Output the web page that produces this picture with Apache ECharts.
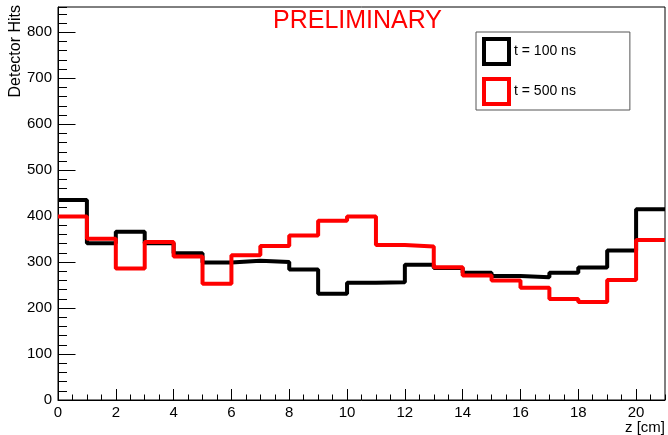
<!DOCTYPE html>
<html>
<head>
<meta charset="utf-8">
<script src="https://cdn.jsdelivr.net/npm/echarts@6/dist/echarts.min.js"></script>
<style>html,body{margin:0;padding:0;background:#fff;}#c{width:668px;height:435px;}</style>
</head>
<body>
<div id="c"></div>
<script>
// bin lower edges (z in cm), bin width 1
const binLow = [0,1,2,3,4,5,6,7,8,9,10,11,12,13,14,15,16,17,18,19,20];
const binWidth = 1;
const hits100 = [435,341,366,341,319,299,303,300,284,231,255,256,294,287,277,270,267,277,288,325,415];
const hits500 = [399,351,286,344,312,253,315,335,358,390,399,337,334,289,271,260,244,220,213,261,348];
const seriesNames = ['t = 100 ns', 't = 500 ns'];
const xMajorTicks = [0,2,4,6,8,10,12,14,16,18,20];

function stepPoints(vals) {
  const pts = binLow.map((x, i) => [x, vals[i]]);
  pts.push([binLow[binLow.length - 1] + binWidth, vals[vals.length - 1]]);
  return pts;
}

const FONT = 'Liberation Sans';
const chart = echarts.init(document.getElementById('c'), null, {renderer: 'canvas'});
const xMax = binLow[binLow.length - 1] + binWidth;
const yMax = 855;

chart.setOption({
  backgroundColor: '#fff',
  animation: false,
  textStyle: {fontFamily: FONT},
  title: {
    text: 'PRELIMINARY',
    left: 273, top: 9, padding: 0,
    textStyle: {color: '#ff0000', fontSize: 25, fontWeight: 'normal', fontFamily: FONT}
  },
  legend: {
    orient: 'vertical',
    left: 476, top: 32,
    padding: [5, 54, 4, 6],
    itemGap: 11,
    itemWidth: 25, itemHeight: 25,
    backgroundColor: '#fff',
    borderColor: '#555', borderWidth: 1,
    selectedMode: false,
    textStyle: {fontSize: 14, color: '#000', fontFamily: FONT},
    data: [
      {name: seriesNames[0], icon: 'rect', itemStyle: {color: 'rgba(0,0,0,0)', borderColor: '#000', borderWidth: 4}},
      {name: seriesNames[1], icon: 'rect', itemStyle: {color: 'rgba(0,0,0,0)', borderColor: '#ff0000', borderWidth: 4}}
    ]
  },
  grid: {left: 58, right: 2, top: 7, bottom: 35, show: true, borderColor: '#000', borderWidth: 1, containLabel: false},
  xAxis: [
    {
      type: 'value', min: 0, max: xMax, interval: 2, position: 'bottom',
      axisLine: {show: true, onZero: false, lineStyle: {color: '#000', width: 1}},
      axisTick: {show: true, inside: true, length: 11, lineStyle: {color: '#000'}},
      axisLabel: {show: true, margin: 5, fontSize: 15, color: '#000', fontFamily: FONT, showMaxLabel: false,
        formatter: v => (xMajorTicks.indexOf(v) >= 0 ? String(v) : '')},
      splitLine: {show: false},
      name: 'z [cm]', nameLocation: 'end', nameGap: 0, nameMoveOverlap: false,
      nameTextStyle: {fontSize: 15, color: '#000', fontFamily: FONT, align: 'right', verticalAlign: 'top', padding: [20, 0, 0, 0]}
    },
    {
      type: 'value', min: 0, max: xMax, interval: 0.5, position: 'bottom',
      axisLine: {show: false, onZero: false},
      axisTick: {show: true, inside: true, length: 5.5, lineStyle: {color: '#000'}},
      axisLabel: {show: false},
      splitLine: {show: false}
    }
  ],
  yAxis: [
    {
      type: 'value', min: 0, max: yMax, interval: 100, position: 'left',
      axisLine: {show: true, onZero: false, lineStyle: {color: '#000', width: 1}},
      axisTick: {show: true, inside: true, length: 17.5, lineStyle: {color: '#000'}},
      axisLabel: {show: true, margin: 6, fontSize: 15, color: '#000', fontFamily: FONT, showMaxLabel: false},
      splitLine: {show: false},
      name: 'Detector Hits', nameLocation: 'end', nameRotate: 90, nameGap: 2, nameMoveOverlap: false,
      nameTextStyle: {fontSize: 16, color: '#000', fontFamily: FONT, align: 'right', verticalAlign: 'bottom', padding: [0, 0, 34, 0]}
    },
    {
      type: 'value', min: 0, max: yMax, interval: 20, position: 'left',
      axisLine: {show: false, onZero: false},
      axisTick: {show: true, inside: true, length: 9, lineStyle: {color: '#000'}},
      axisLabel: {show: false},
      splitLine: {show: false}
    }
  ],
  series: [
    {
      name: seriesNames[0], type: 'line', step: 'end', xAxisIndex: 0, yAxisIndex: 0,
      data: stepPoints(hits100), showSymbol: false, symbol: 'none',
      lineStyle: {color: '#000', width: 4}, itemStyle: {color: '#000'}, z: 2
    },
    {
      name: seriesNames[1], type: 'line', step: 'end', xAxisIndex: 0, yAxisIndex: 0,
      data: stepPoints(hits500), showSymbol: false, symbol: 'none',
      lineStyle: {color: '#ff0000', width: 4}, itemStyle: {color: '#ff0000'}, z: 3
    }
  ]
});
</script>
</body>
</html>
